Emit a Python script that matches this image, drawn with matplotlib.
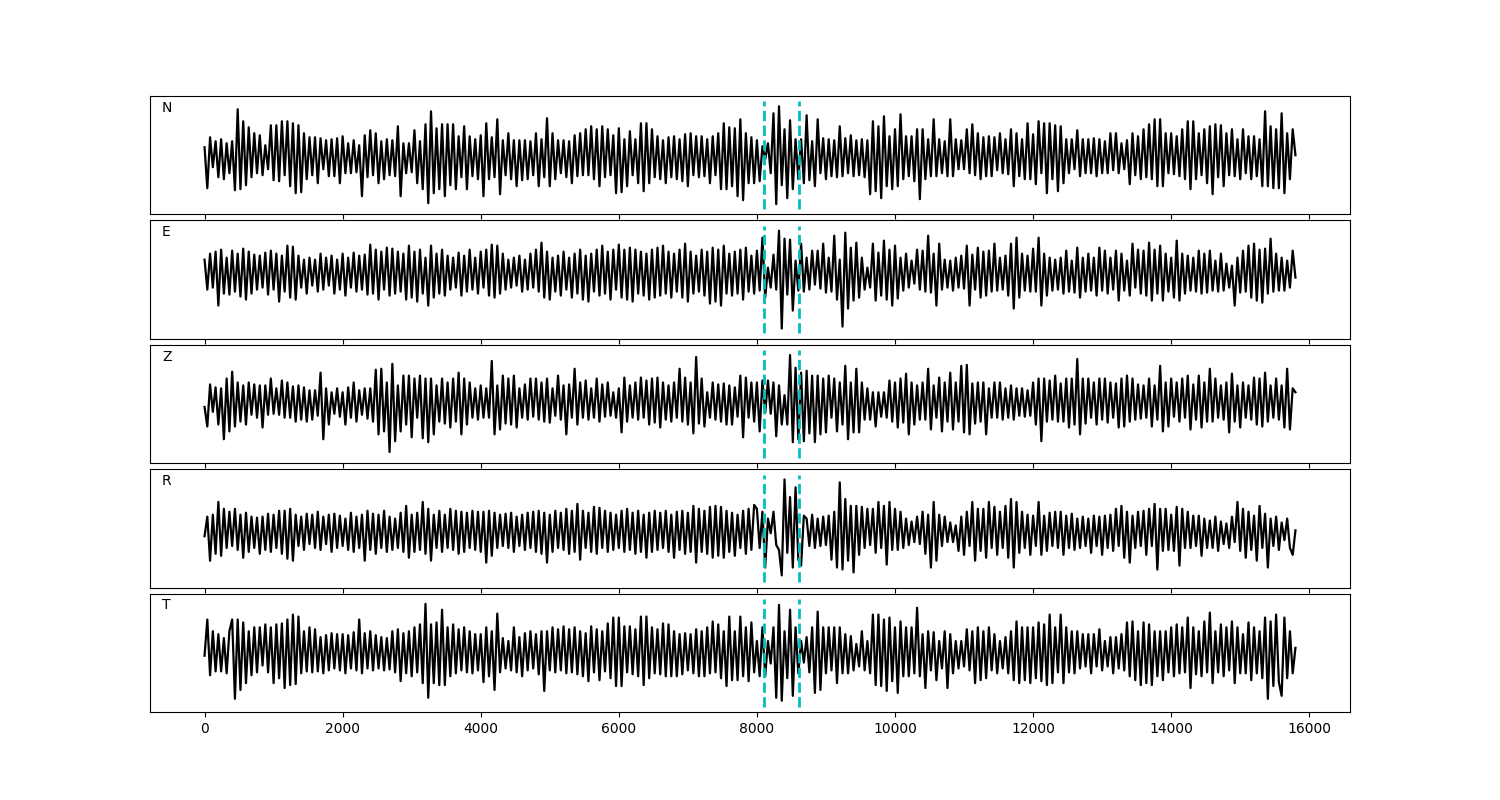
import numpy as np
import matplotlib
matplotlib.use("Agg")
import matplotlib.pyplot as plt

# ---- data (amplitudes, arbitrary units) ----
t_start = 0
t_end = 15800
pick_times = [8100, 8610]
labels = ["N", "E", "Z", "R", "T"]

N_vals = [
    8, -33, 18, -12, 14, -22, 16, -24, 12, -18,
    14, -35, 46, -34, 34, -30, 28, -22, 22, -18,
    20, -20, 10, -14, 30, -25, 30, -26, 34, -20,
    34, -31, 32, -38, 30, -37, 22, -24, 18, -20,
    18, -28, 17, -14, 15, -21, 16, -21, 17, -28,
    19, -18, 12, -18, 15, -17, 10, -41, 20, -22,
    25, -20, 22, -28, 14, -24, 16, -20, 15, -21,
    29, -41, 12, -18, 12, -17, 25, -28, 14, -34,
    31, -48, 44, -38, 27, -34, 31, -41, 31, -30,
    31, -34, 19, -22, 29, -34, 19, -21, 16, -24,
    20, -41, 32, -24, 18, -22, 36, -39, 15, -20,
    22, -24, 15, -31, 15, -25, 15, -24, 14, -20,
    22, -31, 16, -22, 37, -31, 22, -24, 15, -18,
    15, -22, 14, -28, 20, -21, 22, -20, 26, -20,
    29, -24, 26, -31, 29, -22, 26, -20, 20, -38,
    27, -37, 16, -31, 24, -20, 16, -28, 32, -36,
    32, -28, 26, -22, 19, -24, 15, -28, 18, -22,
    19, -24, 16, -26, 21, -31, 22, -20, 19, -22,
    19, -21, 16, -28, 19, -20, 22, -34, 32, -34,
    28, -31, 27, -41, 36, -45, 22, -28, 18, -28,
    15, -26, 9, -4, 12, -18, 42, -49, 49, -30,
    26, -43, 35, -34, 16, -24, 16, -28, 40, -25,
    14, -31, 36, -18, 17, -24, 16, -21, 15, -22,
    29, -21, 17, -18, 20, -21, 15, -20, 16, -22,
    15, -39, 34, -36, 29, -43, 39, -31, 19, -34,
    26, -31, 41, -24, 19, -21, 19, -26, 26, -44,
    26, -24, 16, -21, 36, -21, 16, -18, 14, -21,
    36, -21, 16, -14, 15, -14, 26, -18, 31, -20,
    22, -24, 18, -21, 19, -21, 18, -15, 22, -18,
    16, -19, 26, -31, 22, -21, 16, -24, 32, -24,
    21, -29, 34, -18, 32, -38, 32, -24, 30, -36,
    29, -28, 16, -18, 16, -14, 25, -21, 16, -18,
    16, -18, 17, -21, 16, -18, 14, -18, 22, -15,
    22, -18, 12, -14, 15, -29, 22, -20, 19, -24,
    26, -22, 31, -24, 36, -31, 36, -31, 22, -18,
    22, -19, 19, -21, 26, -24, 34, -34, 34, -24,
    22, -20, 26, -28, 29, -39, 31, -22, 30, -31,
    22, -20, 26, -21, 16, -24, 26, -18, 19, -24,
    19, -21, 16, -31, 44, -31, 29, -33, 26, -33,
    42, -38, 22, -24, 26, 0,
]

E_vals = [
    20, -10, 26, -8, 28, -26, 30, -14, 22, -15,
    29, -12, 26, -17, 31, -20, 28, -14, 25, -10,
    24, -8, 27, -15, 29, -10, 26, -22, 24, -12,
    34, -18, 33, -20, 24, -8, 20, -14, 22, -6,
    20, -12, 26, -10, 22, -6, 24, -14, 20, -10,
    26, -16, 22, -8, 27, -12, 24, -10, 25, -15,
    35, -14, 30, -20, 28, -10, 32, -16, 31, -14,
    28, -12, 26, -20, 34, -18, 28, -22, 30, -14,
    22, -26, 34, -18, 26, -14, 30, -16, 24, -10,
    22, -8, 27, -16, 24, -12, 30, -10, 22, -14,
    28, -8, 30, -16, 35, -18, 34, -14, 26, -10,
    20, -8, 22, -6, 24, -12, 20, -10, 26, -8,
    30, -12, 37, -18, 28, -20, 22, -12, 24, -16,
    28, -10, 22, -18, 26, -14, 30, -20, 24, -22,
    26, -12, 30, -16, 34, -14, 28, -20, 30, -10,
    35, -18, 30, -20, 32, -22, 30, -14, 28, -16,
    26, -20, 30, -18, 32, -16, 34, -14, 28, -18,
    26, -12, 30, -18, 36, -22, 28, -14, 24, -12,
    30, -16, 28, -24, 32, -22, 30, -26, 34, -14,
    26, -16, 28, -14, 30, -20, 32, -12, 24, -14,
    29, -11, 42, -18, 12, -8, 25, -10, 49, -49,
    41, -15, 40, -31, 19, -11, 36, -12, 22, -10,
    29, -5, 29, -9, 36, -13, 22, -12, 44, -20,
    20, -47, 47, -29, 32, -21, 37, -18, 22, -10,
    12, -8, 36, -21, 27, -16, 39, -20, 30, -26,
    34, -19, 22, -11, 26, -8, 19, -4, 30, -10,
    29, -12, 44, -13, 26, -26, 36, -10, 20, -8,
    19, -11, 22, -8, 24, -9, 34, -26, 25, -10,
    32, -18, 28, -16, 29, -12, 36, -11, 22, -10,
    24, -16, 36, -29, 42, -18, 26, -11, 24, -12,
    31, -12, 42, -26, 26, -16, 22, -11, 20, -10,
    22, -14, 29, -12, 19, -13, 32, -18, 22, -12,
    26, -11, 22, -16, 32, -11, 29, -14, 22, -10,
    29, -21, 26, -11, 19, -16, 36, -8, 30, -14,
    29, -16, 37, -21, 30, -14, 34, -21, 26, -12,
    22, -18, 39, -21, 26, -14, 24, -11, 22, -12,
    29, -14, 26, -13, 29, -11, 19, -12, 26, -11,
    16, -8, 14, -26, 22, -13, 29, -12, 34, -18,
    36, -21, 30, -23, 31, -14, 41, -12, 26, -11,
    22, -11, 19, -8, 29, 2,
]

Z_vals = [
    -3, -23, 20, -8, 17, -21, 16, -36, 26, -28,
    33, -23, 22, -18, 19, -21, 22, -11, 20, -14,
    19, -24, 19, -11, 26, -10, 16, -11, 24, -14,
    22, -14, 18, -18, 19, -16, 17, -18, 14, -16,
    14, -12, 32, -36, 16, -21, 12, -10, 16, -13,
    12, -21, 17, -14, 22, -18, 14, -11, 16, -15,
    16, -18, 35, -31, 36, -28, 22, -49, 41, -38,
    19, -28, 29, -21, 29, -34, 26, -14, 29, -35,
    26, -39, 26, -31, 19, -18, 26, -20, 22, -24,
    26, -18, 32, -31, 26, -21, 22, -14, 16, -16,
    19, -14, 16, -14, 44, -31, 19, -26, 29, -20,
    26, -21, 29, -24, 16, -14, 20, -16, 26, -13,
    26, -16, 22, -18, 26, -19, 16, -12, 29, -16,
    19, -31, 20, -14, 36, -21, 22, -14, 24, -16,
    16, -14, 26, -18, 20, -13, 22, -12, 12, -14,
    16, -29, 27, -18, 19, -14, 22, -16, 27, -14,
    24, -21, 26, -19, 27, -24, 22, -16, 19, -18,
    22, -14, 36, -18, 27, -21, 22, -30, 48, -20,
    26, -23, 12, -14, 22, -16, 20, -18, 21, -21,
    19, -21, 17, -13, 29, -34, 27, -14, 22, -18,
    22, -28, 24, -9, 24, -10, 22, -33, 19, -21,
    9, -21, 50, -39, 37, -36, 32, -38, 34, -30,
    29, -39, 29, -31, 26, -29, 29, -14, 26, -28,
    22, -21, 39, -36, 22, -29, 36, -29, 22, -16,
    16, -16, 12, -23, 12, -13, 12, -14, 24, -18,
    22, -24, 26, -19, 31, -31, 22, -21, 19, -16,
    22, -16, 36, -26, 19, -14, 27, -28, 22, -18,
    32, -26, 22, -18, 39, -29, 40, -31, 21, -20,
    22, -18, 22, -31, 16, -14, 22, -14, 22, -16,
    16, -14, 19, -16, 16, -12, 16, -13, 14, -12,
    22, -21, 26, -38, 26, -18, 24, -16, 29, -18,
    21, -18, 26, -24, 26, -21, 46, -31, 26, -20,
    26, -14, 22, -21, 26, -16, 26, -19, 22, -14,
    21, -24, 26, -23, 29, -18, 26, -16, 20, -15,
    19, -14, 26, -23, 19, -16, 39, -28, 22, -23,
    26, -13, 22, -18, 26, -14, 29, -26, 20, -16,
    29, -24, 22, -18, 36, -18, 26, -14, 19, -16,
    22, -29, 31, -18, 19, -24, 22, -14, 19, -16,
    27, -21, 26, -23, 32, -18, 19, -14, 26, -16,
    19, -24, 36, -26, 16, 12,
]

R_vals = [
    -8, 12, -33, 14, -26, 27, -28, 20, -20, 17,
    -18, 20, -22, 14, -30, 16, -24, 12, -20, 11,
    -26, 12, -22, 15, -24, 14, -20, 18, -26, 18,
    -31, 20, -33, 14, -18, 12, -22, 15, -16, 14,
    -20, 17, -22, 12, -16, 14, -24, 15, -20, 13,
    -18, 10, -22, 16, -24, 12, -20, 14, -33, 18,
    -22, 15, -26, 14, -20, 18, -24, 12, -22, 10,
    -20, 16, -24, 23, -30, 14, -24, 16, -22, 27,
    -26, 20, -33, 14, -20, 18, -24, 14, -20, 20,
    -22, 18, -26, 17, -24, 16, -20, 18, -22, 17,
    -24, 17, -35, 18, -28, 16, -20, 14, -18, 15,
    -20, 16, -24, 12, -18, 14, -22, 16, -20, 17,
    -24, 18, -26, 16, -35, 14, -24, 18, -20, 16,
    -22, 20, -26, 18, -24, 25, -32, 18, -20, 16,
    -24, 22, -26, 21, -20, 18, -24, 16, -22, 14,
    -20, 18, -24, 20, -22, 16, -26, 18, -24, 14,
    -30, 16, -24, 18, -22, 16, -20, 18, -24, 14,
    -30, 17, -22, 18, -26, 16, -24, 23, -35, 20,
    -24, 18, -26, 22, -30, 23, -28, 22, -30, 18,
    -24, 16, -28, 14, -20, 18, -26, 20, -22, 24,
    20, -20, 17, -40, 10, -5, 17, -17, -22, -48,
    50, -25, 32, -40, 42, -32, -38, 13, 10, -18,
    14, -20, 10, -18, 12, -17, 13, -32, 17, -40,
    47, -42, 30, -33, 23, -45, 23, -27, 22, -20,
    20, -17, 20, -25, 27, -20, 23, -37, 27, -22,
    20, -22, 17, -20, 10, -17, 7, -14, 12, -16,
    17, -26, 14, -40, 27, -33, 14, -18, 12, -14,
    6, -14, 3, -23, 12, -27, 17, -18, 27, -33,
    20, -23, 20, -30, 27, -20, 22, -27, 17, -20,
    23, -30, 30, -40, 27, -25, 17, -20, 14, -27,
    13, -18, 27, -27, 13, -23, 16, -18, 17, -20,
    17, -27, 13, -20, 15, -22, 10, -20, 12, -18,
    10, -25, 13, -18, 12, -27, 13, -20, 14, -23,
    20, -18, 23, -30, 17, -35, 13, -20, 17, -18,
    18, -27, 20, -18, 25, -42, 20, -23, 20, -22,
    14, -23, 22, -38, 20, -20, 17, -20, 13, -18,
    13, -28, 10, -20, 8, -20, 12, -23, 7, -16,
    5, -20, 12, -14, 27, -23, 20, -30, 17, -22,
    13, -33, 23, -20, 15, -40, 10, -18, 12, -22,
    6, -12, 10, -20, -27, -2,
]

T_vals = [
    -3, 34, -23, 22, -19, 19, -19, 15, -21, 22,
    34, -47, 34, -38, 31, -31, 22, -23, 26, -20,
    26, -13, 29, -20, 26, -31, 29, -26, 30, -36,
    34, -33, 39, -32, 37, -21, 22, -19, 26, -20,
    24, -19, 16, -21, 18, -18, 20, -16, 19, -18,
    19, -21, 18, -16, 21, -18, 34, -21, 20, -16,
    22, -18, 18, -16, 16, -18, 15, -17, 22, -20,
    24, -29, 20, -21, 22, -24, 26, -20, 29, -31,
    50, -46, 29, -31, 31, -33, 44, -33, 26, -24,
    29, -21, 24, -18, 26, -20, 22, -21, 19, -18,
    19, -30, 26, -24, 22, -38, 40, -20, 15, -16,
    12, -18, 26, -20, 16, -24, 20, -18, 22, -16,
    19, -22, 22, -39, 22, -18, 26, -20, 24, -18,
    27, -21, 24, -20, 26, -22, 22, -24, 20, -29,
    27, -20, 24, -28, 22, -19, 30, -26, 36, -34,
    36, -34, 27, -20, 27, -22, 24, -24, 37, -33,
    37, -26, 26, -21, 24, -22, 30, -24, 29, -24,
    22, -24, 19, -22, 20, -18, 19, -21, 24, -24,
    22, -24, 26, -21, 32, -20, 29, -26, 22, -34,
    37, -28, 22, -28, 37, -24, 26, -29, 31, -20,
    12, -24, 26, -24, 12, -11, 26, -46, 49, -49,
    22, -26, 44, -44, 26, -21, 12, -10, 16, -20,
    26, -41, 42, -38, 26, -21, 26, -18, 26, -31,
    26, -21, 19, -21, 17, -18, 9, -14, 22, -18,
    12, -21, 39, -33, 39, -34, 34, -39, 36, -29,
    26, -41, 32, -24, 26, -24, 26, -21, 46, -24,
    19, -36, 22, -18, 21, -28, 12, -16, 22, -36,
    19, -21, 12, -16, 12, -14, 24, -18, 22, -31,
    26, -28, 22, -26, 26, -18, 19, -21, 12, -16,
    16, -21, 22, -28, 32, -31, 26, -28, 26, -31,
    26, -26, 31, -29, 29, -33, 39, -31, 26, -20,
    39, -31, 26, -20, 22, -21, 22, -16, 19, -14,
    19, -21, 19, -14, 24, -18, 12, -14, 16, -21,
    16, -16, 19, -18, 31, -24, 32, -28, 22, -33,
    31, -31, 29, -33, 22, -24, 22, -28, 22, -20,
    26, -24, 29, -21, 26, -20, 36, -36, 26, -22,
    22, -24, 32, -20, 41, -31, 22, -20, 29, -24,
    26, -18, 32, -31, 26, -21, 19, -21, 31, -28,
    26, -21, 22, -26, 36, -47, 32, -34, 39, -30,
    -44, 36, -26, 22, -21, 5,
]

series = [N_vals, E_vals, Z_vals, R_vals, T_vals]

# ---- plotting ----
fig, axes = plt.subplots(5, 1, figsize=(15, 8), dpi=100, sharex=True)
fig.subplots_adjust(left=0.1, right=0.9, top=0.88, bottom=0.11, hspace=0.05)

for ax, lab, vals in zip(axes, labels, series):
    v = np.asarray(vals, dtype=float)
    t = np.linspace(t_start, t_end, len(v))
    ax.plot(t, v, color="black", linewidth=1.6)
    amp = 1.1 * np.abs(v).max()
    for pt in pick_times:
        ax.plot([pt, pt], [-amp, amp], color="c", linestyle="--", linewidth=2)
    ax.set_yticks([])
    ax.text(0.01, 0.9, lab, transform=ax.transAxes, va="center", ha="left",
            fontsize=10)

fig.savefig("out.png", dpi=100)
